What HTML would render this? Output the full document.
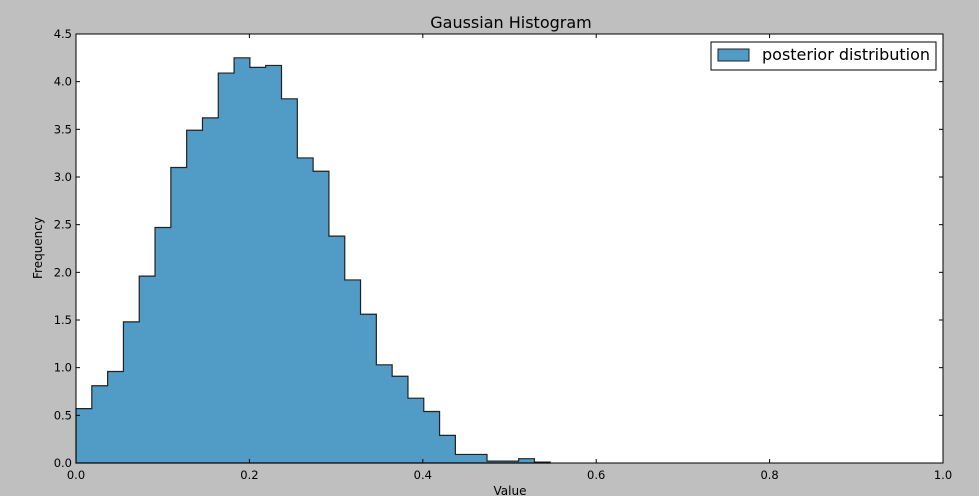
<!DOCTYPE html>
<html><head><meta charset="utf-8"><style>
html,body{margin:0;padding:0;background:#bfbfbf;}
svg{display:block;font-family:"DejaVu Sans","Liberation Sans",sans-serif;}
</style></head><body>
<svg id="chart" width="979" height="496">
<rect x="76" y="34" width="867" height="429" fill="#fff"/>
<g id="bars"></g>
<g id="axes"></g>
<rect x="76" y="34" width="867" height="429" fill="none" stroke="#000" stroke-width="1"/>
<text x="511" y="28" font-size="16" text-anchor="middle">Gaussian Histogram</text>
<text x="510" y="495" font-size="12" text-anchor="middle">Value</text>
<text x="42" y="248" font-size="12" text-anchor="middle" transform="rotate(-90 42 248)">Frequency</text>
<g>
<rect x="711" y="42" width="225" height="28" fill="#fff" stroke="#000" stroke-width="1"/>
<rect x="718" y="49" width="31" height="12" fill="#519bc7" stroke="#222" stroke-width="1"/>
<text x="762" y="60" font-size="16">posterior distribution</text>
</g>
</svg>
<script>
const binStart = 0;
const binWidth = 0.018233;
const heights = [0.57,0.81,0.96,1.48,1.96,2.47,3.10,3.49,3.62,4.09,4.25,4.15,4.17,3.82,3.20,3.06,2.38,1.92,1.56,1.03,0.91,0.68,0.54,0.29,0.09,0.09,0.02,0.02,0.045,0.01];
const xTicks = [0,0.2,0.4,0.6,0.8,1.0];
const xTickLabels = ["0.0","0.2","0.4","0.6","0.8","1.0"];
const yTicks = [0,0.5,1,1.5,2,2.5,3,3.5,4,4.5];
const yTickLabels = ["0.0","0.5","1.0","1.5","2.0","2.5","3.0","3.5","4.0","4.5"];
const NS="http://www.w3.org/2000/svg";
const X0=76,X1=943,Y0=463,Y1=34;
function xs(v){return X0+(v-0)/(1-0)*(X1-X0);}
function ys(v){return Y0-(v/4.5)*(Y0-Y1);}
const bars=document.getElementById('bars');
let d="M"+xs(binStart)+","+ys(0);
heights.forEach((h,i)=>{
  const a=xs(binStart+i*binWidth), b=xs(binStart+(i+1)*binWidth);
  d+=" L"+a+","+ys(h)+" L"+b+","+ys(h);
});
d+=" L"+xs(binStart+heights.length*binWidth)+","+ys(0)+" Z";
const p=document.createElementNS(NS,'path');
p.setAttribute('d',d);p.setAttribute('fill','#519bc7');p.setAttribute('stroke','#222');p.setAttribute('stroke-width','1.2');


bars.appendChild(p);
const axes=document.getElementById('axes');
function line(x1,y1,x2,y2){const l=document.createElementNS(NS,'line');l.setAttribute('x1',x1);l.setAttribute('y1',y1);l.setAttribute('x2',x2);l.setAttribute('y2',y2);l.setAttribute('stroke','#000');axes.appendChild(l);return l;}
xTicks.forEach((v,i)=>{
  const x=xs(v);
  const t1=line(x,Y0,x,Y0-4);
  
  
  const t2=line(x,Y1,x,Y1+4);
  
  
  const t=document.createElementNS(NS,'text');
  t.setAttribute('x',x);t.setAttribute('y',Y0+16);t.setAttribute('font-size','11.5');t.setAttribute('text-anchor','middle');
  t.textContent=xTickLabels[i];
  
  
  axes.appendChild(t);
});
yTicks.forEach((v,i)=>{
  const y=ys(v);
  const t1=line(X0,y,X0+4,y);
  
  
  const t2=line(X1,y,X1-4,y);
  
  
  const t=document.createElementNS(NS,'text');
  t.setAttribute('x',X0-4);t.setAttribute('y',y+4);t.setAttribute('font-size','11.5');t.setAttribute('text-anchor','end');
  t.textContent=yTickLabels[i];
  
  
  axes.appendChild(t);
});
</script>
</body></html>
